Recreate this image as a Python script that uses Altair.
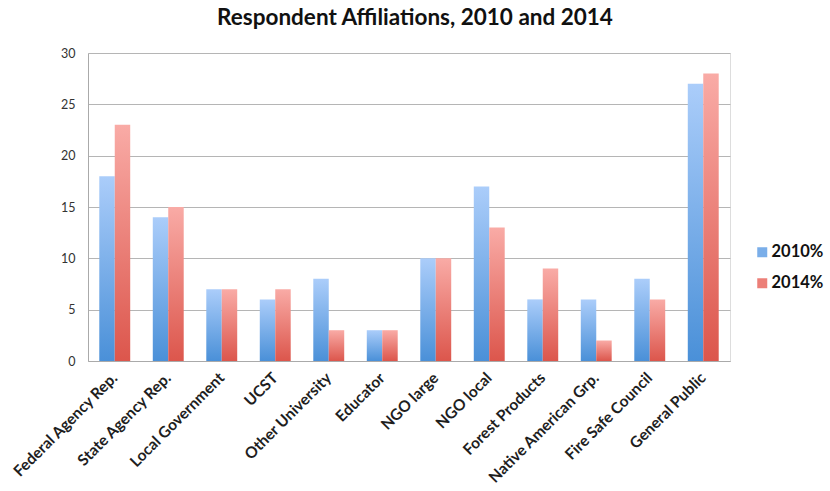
import altair as alt
import pandas as pd

categories = ["Federal Agency Rep.", "State Agency Rep.", "Local Government", "UCST",
              "Other University", "Educator", "NGO large", "NGO local", "Forest Products",
              "Native American Grp.", "Fire Safe Council", "General Public"]
series = ["2010%", "2014%"]
values_2010 = [18, 14, 7, 6, 8, 3, 10, 17, 6, 6, 8, 27]
values_2014 = [23, 15, 7, 7, 3, 3, 10, 13, 9, 2, 6, 28]
y_ticks = [0, 5, 10, 15, 20, 25, 30]

rows = []
for c, a, b in zip(categories, values_2010, values_2014):
    rows.append({"cat": c, "year": series[0], "value": a})
    rows.append({"cat": c, "year": series[1], "value": b})
df = pd.DataFrame(rows)

FONT = "Lato"

blue_grad = alt.Gradient(gradient="linear", x1=0, x2=0, y1=0, y2=1,
                         stops=[alt.GradientStop(offset=0, color="#abcdfa"),
                                alt.GradientStop(offset=1, color="#4a90d8")])
red_grad = alt.Gradient(gradient="linear", x1=0, x2=0, y1=0, y2=1,
                        stops=[alt.GradientStop(offset=0, color="#f9aba6"),
                               alt.GradientStop(offset=1, color="#dc564c")])

x_enc = alt.X("cat:N", sort=categories, title=None,
              scale=alt.Scale(paddingInner=0, paddingOuter=0),
              axis=alt.Axis(labelAngle=-45, labelAlign="right", labelBaseline="middle",
                            labelFont=FONT, labelFontSize=15.5, labelFontWeight="bold",
                            labelColor="#1e1e1e", ticks=False, domain=True,
                            domainColor="#aaaaaa", labelPadding=14, grid=False,
                            labelLimit=300))
y_enc = alt.Y("value:Q", title=None,
              scale=alt.Scale(domain=[0, 30], nice=False),
              axis=alt.Axis(values=y_ticks, ticks=False, domain=True, domainColor="#aaaaaa",
                            gridColor="#b5b5b5", gridWidth=1, labelFont=FONT,
                            labelFontSize=12.5, labelColor="#333333", labelPadding=13))
xoff = alt.XOffset("year:N", scale=alt.Scale(domain=series, paddingOuter=0.73, paddingInner=0))

base = alt.Chart(df)

b2010 = base.transform_filter(alt.datum.year == "2010%").mark_bar(fill=blue_grad).encode(
    x=x_enc, y=y_enc, xOffset=xoff)
b2014 = base.transform_filter(alt.datum.year == "2014%").mark_bar(fill=red_grad).encode(
    x=x_enc, y=y_enc, xOffset=xoff)
legend_layer = base.mark_bar(opacity=0).encode(
    x=x_enc, y=y_enc, xOffset=xoff,
    color=alt.Color("year:N", scale=alt.Scale(domain=series, range=["#7aaee9", "#ec7f78"]),
                    legend=alt.Legend(title=None, orient="none", legendX=666, legendY=191,
                                      symbolType="square", symbolSize=100, symbolOpacity=1,
                                      labelFont=FONT, labelFontSize=16.5, labelFontWeight="bold",
                                      labelColor="#111111", rowPadding=14, labelOffset=1,
                                      symbolStrokeWidth=0)))

chart = alt.layer(b2010, b2014, legend_layer).properties(
    width=642, height=308,
    title=alt.TitleParams("Respondent Affiliations, 2010 and 2014", font=FONT, fontSize=22.5,
                          fontWeight="bold", color="#111111", offset=18, anchor="middle", dx=6),
    autosize=alt.AutoSizeParams(type="none"),
    padding={"left": 88, "top": 53, "right": 100, "bottom": 130},
).configure_view(stroke=None).configure(background="white")

chart.save("out.html", embed_options={"renderer": "svg", "actions": False})
